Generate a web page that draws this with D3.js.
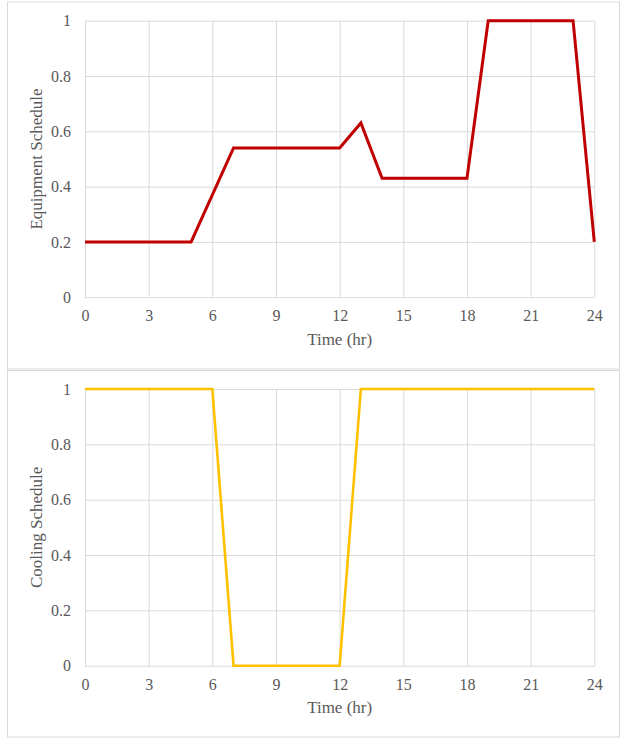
<!DOCTYPE html>
<html>
<head>
<meta charset="utf-8">
<script src="https://cdn.jsdelivr.net/npm/d3@7"></script>
<style>
  html, body { margin: 0; padding: 0; background: #ffffff; }
  svg { display: block; }
  text { font-family: "Liberation Serif", "Times New Roman", serif; fill: #595959; }
</style>
</head>
<body>
<svg id="chart" width="621" height="740"></svg>
<script>
// Hourly schedules (fraction of peak), hour of day vs value
const equipmentHours = [0, 5, 7, 12, 13, 14, 18, 19, 23, 24];
const equipmentValues = [0.2, 0.2, 0.54, 0.54, 0.63, 0.43, 0.43, 1, 1, 0.2];

const coolingHours = [0, 6, 7, 12, 13, 24];
const coolingValues = [1, 1, 0, 0, 1, 1];

const xTicks = [0, 3, 6, 9, 12, 15, 18, 21, 24];
const yTicks = [0, 0.2, 0.4, 0.6, 0.8, 1];

const svg = d3.select("#chart");

const panels = [
  { top: 2, bottom: 369, plotTop: 20.7, plotBottom: 297.2,
    hours: equipmentHours, values: equipmentValues,
    color: "#C00000", width: 3, yTitle: "Equipment Schedule" },
  { top: 370.5, bottom: 737, plotTop: 389, plotBottom: 665.7,
    hours: coolingHours, values: coolingValues,
    color: "#FFC000", width: 2.6, yTitle: "Cooling Schedule" }
];

const left = 85, right = 594.3;

panels.forEach(p => {
  const g = svg.append("g");

  // panel frame
  g.append("rect")
    .attr("x", 7.5).attr("y", p.top)
    .attr("width", 619.5 - 7.5).attr("height", p.bottom - p.top)
    .attr("fill", "#ffffff")
    .attr("stroke", "#d9d9d9").attr("stroke-width", 1);

  const x = d3.scaleLinear().domain([0, 24]).range([left, right]);
  const y = d3.scaleLinear().domain([0, 1]).range([p.plotBottom, p.plotTop]);

  // vertical gridlines
  g.append("g")
    .attr("transform", `translate(0,${p.plotBottom})`)
    .call(d3.axisBottom(x).tickValues(xTicks)
      .tickSize(-(p.plotBottom - p.plotTop)).tickFormat(""))
    .call(a => a.select(".domain").remove())
    .call(a => a.selectAll("line").attr("stroke", "#d9d9d9").attr("stroke-width", 1));

  // horizontal gridlines
  g.append("g")
    .attr("transform", `translate(${left},0)`)
    .call(d3.axisLeft(y).tickValues(yTicks)
      .tickSize(-(right - left)).tickFormat(""))
    .call(a => a.select(".domain").remove())
    .call(a => a.selectAll("line").attr("stroke", "#d9d9d9").attr("stroke-width", 1));

  // x tick labels
  g.append("g")
    .attr("transform", `translate(0,${p.plotBottom})`)
    .call(d3.axisBottom(x).tickValues(xTicks).tickSize(0).tickPadding(12.5)
      .tickFormat(d3.format("d")))
    .call(a => a.select(".domain").remove())
    .call(a => a.selectAll("text")
      .attr("font-size", "16px").attr("fill", "#595959")
      .attr("font-family", "Liberation Serif, serif"));

  // y tick labels
  g.append("g")
    .attr("transform", `translate(${left},0)`)
    .call(d3.axisLeft(y).tickValues(yTicks).tickSize(0).tickPadding(14)
      .tickFormat(d => d === 0 ? "0" : d === 1 ? "1" : d3.format(".1f")(d)))
    .call(a => a.select(".domain").remove())
    .call(a => a.selectAll("text")
      .attr("font-size", "16px").attr("fill", "#595959")
      .attr("font-family", "Liberation Serif, serif"));

  // axis titles
  g.append("text")
    .attr("x", (left + right) / 2)
    .attr("y", p.plotBottom + 47.5)
    .attr("text-anchor", "middle")
    .attr("font-size", "17px")
    .text("Time (hr)");

  g.append("text")
    .attr("transform", `translate(41.5,${(p.plotTop + p.plotBottom) / 2}) rotate(-90)`)
    .attr("text-anchor", "middle")
    .attr("font-size", "17px")
    .text(p.yTitle);

  // schedule line
  const pts = p.hours.map((h, i) => [h, p.values[i]]);
  g.append("path")
    .datum(pts)
    .attr("fill", "none")
    .attr("stroke", p.color)
    .attr("stroke-width", p.width)
    .attr("stroke-linejoin", "miter")
    .attr("d", d3.line().x(d => x(d[0])).y(d => y(d[1])));
});
</script>
</body>
</html>
